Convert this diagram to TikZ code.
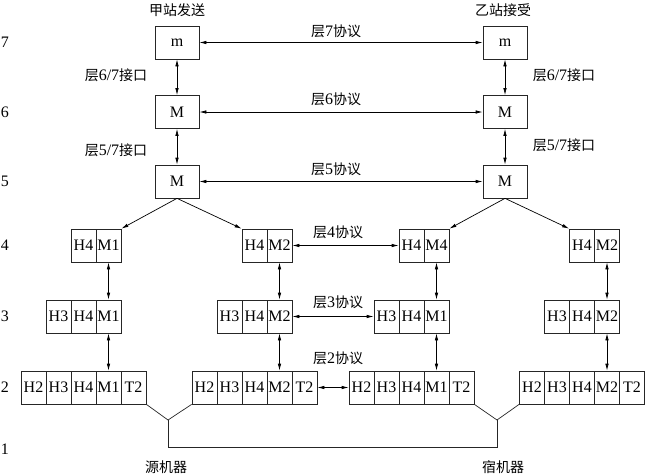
\documentclass[tikz,border=0pt]{standalone}
\usepackage{fontspec}
\setmainfont{Liberation Serif}
\newfontfamily\cjk{Noto Sans CJK SC}
\usetikzlibrary{arrows.meta}
\newcommand\zh[1]{{\cjk\fontsize{14}{16}\selectfont #1}}
\begin{document}
\begin{tikzpicture}[x=1pt,y=-1pt,
  cell/.style={draw=black!85, line width=0.7pt, minimum width=25pt, minimum height=33pt, inner sep=0pt, font=\fontsize{16}{18}\selectfont},
  topbox/.style={cell, minimum width=44pt},
  dbl/.style={{Latex[length=7pt,width=3.5pt]}-{Latex[length=7pt,width=3.5pt]}, line width=0.7pt},
  sgl/.style={-{Latex[length=7pt,width=3.5pt]}, line width=0.7pt},
  wire/.style={line width=0.7pt, draw=black!85},
  lab/.style={font=\fontsize{16}{18}\selectfont, inner sep=0pt},
  ]
\useasboundingbox (0,0) rectangle (645,474);

% layer numbers
\foreach \n/\y in {7/42,6/112,5/181,4/245,3/316,2/387,1/449}
  \node[lab] (num\n) at (5,\y) {\n};

% top boxes
\node[topbox] (lm7) at (177,42.5) {m};
\node[topbox] (lm6) at (177,112) {M};
\node[topbox] (lm5) at (177,181.5) {M};
\node[topbox] (rm7) at (505,42.5) {m};
\node[topbox] (rm6) at (505,112) {M};
\node[topbox] (rm5) at (505,181.5) {M};

% stack A
\foreach \t [count=\i] in {H4,M1} \node[cell] (a4-\i) at ({58.5+25*\i},245.5) {\t};
\foreach \t [count=\i] in {H3,H4,M1} \node[cell] (a3-\i) at ({33.5+25*\i},316.5) {\t};
\foreach \t [count=\i] in {H2,H3,H4,M1,T2} \node[cell] (a2-\i) at ({8.5+25*\i},387.5) {\t};
% stack B
\foreach \t [count=\i] in {H4,M2} \node[cell] (b4-\i) at ({229.5+25*\i},245.5) {\t};
\foreach \t [count=\i] in {H3,H4,M2} \node[cell] (b3-\i) at ({204.5+25*\i},316.5) {\t};
\foreach \t [count=\i] in {H2,H3,H4,M2,T2} \node[cell] (b2-\i) at ({179.5+25*\i},387.5) {\t};
% stack C
\foreach \t [count=\i] in {H4,M4} \node[cell] (c4-\i) at ({386.5+25*\i},245.5) {\t};
\foreach \t [count=\i] in {H3,H4,M1} \node[cell] (c3-\i) at ({361.5+25*\i},316.5) {\t};
\foreach \t [count=\i] in {H2,H3,H4,M1,T2} \node[cell] (c2-\i) at ({336.5+25*\i},387.5) {\t};
% stack D
\foreach \t [count=\i] in {H4,M2} \node[cell] (d4-\i) at ({557+25*\i},245.5) {\t};
\foreach \t [count=\i] in {H3,H4,M2} \node[cell] (d3-\i) at ({532+25*\i},316.5) {\t};
\foreach \t [count=\i] in {H2,H3,H4,M2,T2} \node[cell] (d2-\i) at ({507+25*\i},387.5) {\t};

% interfaces (vertical)
\draw[dbl] (lm7) -- (lm6);
\draw[dbl] (lm6) -- (lm5);
\draw[dbl] (rm7) -- (rm6);
\draw[dbl] (rm6) -- (rm5);
\draw[dbl] (a4-2) -- (a3-3);
\draw[dbl] (a3-3) -- (a2-4);
\draw[dbl] (b4-2) -- (b3-3);
\draw[dbl] (b3-3) -- (b2-4);
\draw[dbl] (c4-2) -- (c3-3);
\draw[dbl] (c3-3) -- (c2-4);
\draw[dbl] (d4-2) -- (d3-3);
\draw[dbl] (d3-3) -- (d2-4);

% split arrows
\draw[sgl] (lm5.south) -- (a4-2.north east);
\draw[sgl] (lm5.south) -- (b4-1.north west);
\draw[sgl] (rm5.south) -- (c4-2.north east);
\draw[sgl] (rm5.south) -- (d4-1.north west);

% protocols (horizontal)
\draw[dbl] (lm7) -- (rm7);
\draw[dbl] (lm6) -- (rm6);
\draw[dbl] (lm5) -- (rm5);
\draw[dbl] (b4-2) -- (c4-1);
\draw[dbl] (b3-3) -- (c3-1);
\draw[dbl] (b2-5) -- (c2-1);

% physical link
\coordinate (jl) at (168,420);
\coordinate (jr) at (497,420);
\coordinate (bl) at (168,447.5);
\coordinate (br) at (497,447.5);
\draw[wire] (a2-5.south east) -- (jl) -- (b2-1.south west);
\draw[wire] (c2-5.south east) -- (jr) -- (d2-1.south west);
\draw[wire] (jl) -- (bl) -- (br) -- (jr);

% labels
\node[lab] (tA) at (177,10) {\zh{甲站发送}};
\node[lab] (tB) at (503,10) {\zh{乙站接受}};
\node[lab] (p7) at (336,31) {\zh{层}7\zh{协议}};
\node[lab] (p6) at (336,99) {\zh{层}6\zh{协议}};
\node[lab] (p5) at (336,169) {\zh{层}5\zh{协议}};
\node[lab] (p4) at (338,232) {\zh{层}4\zh{协议}};
\node[lab] (p3) at (338,302) {\zh{层}3\zh{协议}};
\node[lab] (p2) at (338,358) {\zh{层}2\zh{协议}};
\node[lab] (i67l) at (116,75) {\zh{层}6/7\zh{接口}};
\node[lab] (i57l) at (116,150) {\zh{层}5/7\zh{接口}};
\node[lab] (i67r) at (564,75) {\zh{层}6/7\zh{接口}};
\node[lab] (i57r) at (564,145) {\zh{层}5/7\zh{接口}};
\node[lab] (src) at (166,467) {\zh{源机器}};
\node[lab] (dst) at (503,467) {\zh{宿机器}};
\end{tikzpicture}
\end{document}
